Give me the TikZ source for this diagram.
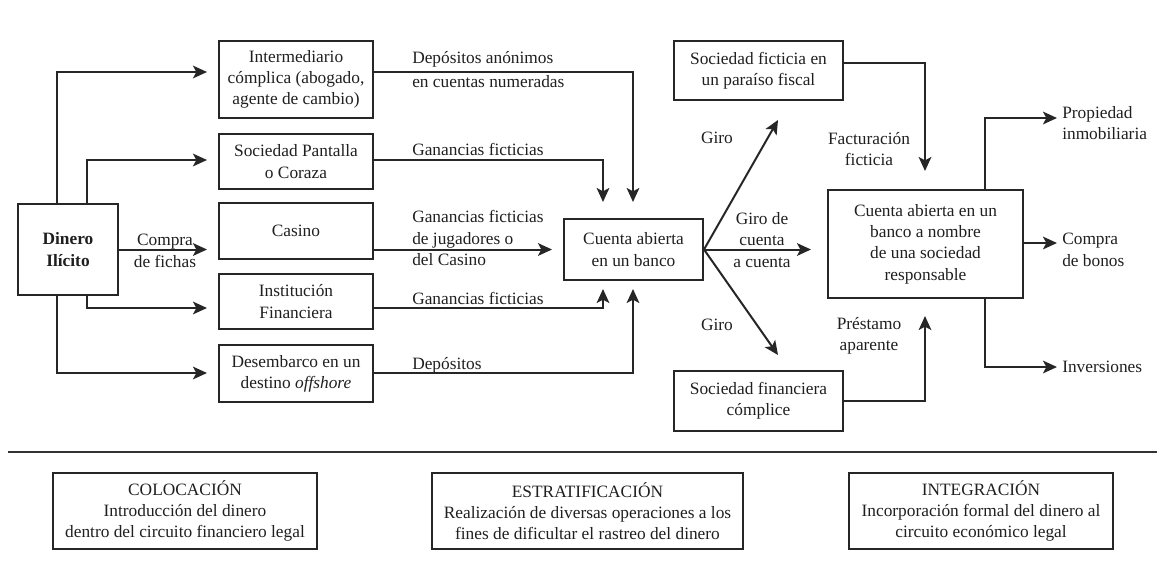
\documentclass[tikz,border=0pt]{standalone}
\usepackage{fontspec}
\setmainfont{Liberation Serif}
\usetikzlibrary{arrows.meta,calc}
\begin{document}
\begin{tikzpicture}[x=0.75pt,y=-0.75pt,
  every node/.style={font=\fontsize{13}{16}\selectfont, text=black!88},
  box/.style={draw=black!85, line width=1.5pt, align=center, inner sep=2pt},
  arr/.style={draw=black!85, line width=1.5pt, -{Stealth[length=10.5pt,width=9.5pt,inset=2.5pt]}},
  lbl/.style={inner sep=0pt, align=left},
]
\useasboundingbox (0,0) rectangle (1157,561);

% nodes
\node[box, minimum width=75pt, minimum height=68.25pt] (dinero) at (68,249.5) {\textbf{Dinero}\\\textbf{Ilícito}};
\node[box, minimum width=115.5pt, minimum height=57.75pt] (inter) at (296,79.5) {Intermediario\\cómplica (abogado,\\agente de cambio)};
\node[box, minimum width=115.5pt, minimum height=41.25pt] (pant) at (296,161.5) {Sociedad Pantalla\\o Coraza};
\node[box, minimum width=115.5pt, minimum height=42pt] (casino) at (296,231) {Casino};
\node[box, minimum width=115.5pt, minimum height=41.25pt] (inst) at (296,301.5) {Institución\\Financiera};
\node[box, minimum width=115.5pt, minimum height=42.75pt] (desem) at (296,373.5) {Desembarco en un\\destino \textit{offshore}};
\node[box, minimum width=104.25pt, minimum height=45.75pt] (cuenta) at (633.5,249.5) {Cuenta abierta\\en un banco};
\node[box, minimum width=126.75pt, minimum height=44.25pt] (ficticia) at (758.5,70.5) {Sociedad ficticia en\\un paraíso fiscal};
\node[box, minimum width=126.75pt, minimum height=45pt] (financiera) at (758.5,401) {Sociedad financiera\\cómplice};
\node[box, minimum width=146.25pt, minimum height=81pt] (cuenta2) at (925.5,244) {Cuenta abierta en un\\banco a nombre\\de una sociedad\\responsable};

\node[box, minimum width=198pt, minimum height=57pt] (coloc) at (185,511) {COLOCACIÓN\\Introducción del dinero\\dentro del circuito financiero legal};
\node[box, minimum width=233.25pt, minimum height=57pt] (estrat) at (587.5,511) {ESTRATIFICACIÓN\\Realización de diversas operaciones a los\\fines de dificultar el rastreo del dinero};
\node[box, minimum width=198pt, minimum height=57pt] (integ) at (981,511) {INTEGRACIÓN\\Incorporación formal del dinero al\\circuito económico legal};

% labels
\node[lbl, anchor=west] (l1) at (412,70) {Depósitos anónimos\\[2pt]en cuentas numeradas};
\node[lbl, anchor=west] (l2) at (412,149) {Ganancias ficticias};
\node[lbl, anchor=west] (l3) at (412,238) {Ganancias ficticias\\de jugadores o\\del Casino};
\node[lbl, anchor=west] (l4) at (412,298) {Ganancias ficticias};
\node[lbl, anchor=west] (l5) at (412,365) {Depósitos};
\node[lbl, align=center] (compra) at (165,251) {Compra\\de fichas};
\node[lbl] (giro1) at (717,138) {Giro};
\node[lbl, align=center] (giro2) at (762,240) {Giro de\\cuenta\\a cuenta};
\node[lbl] (giro3) at (717,325) {Giro};
\node[lbl, align=center] (fact) at (869,149) {Facturación\\ficticia};
\node[lbl, align=center] (prest) at (869,336) {Préstamo\\aparente};
\node[lbl, anchor=west] (prop) at (1062,123) {Propiedad\\inmobiliaria};
\node[lbl, anchor=west] (bonos) at (1062,250) {Compra\\de bonos};
\node[lbl, anchor=west] (inv) at (1062,367) {Inversiones};

% connectors from Dinero
\draw[arr, shorten >=8.25pt] (dinero.north -| 57,0) |- (inter.west |- 0,72);
\draw[arr, shorten >=8.25pt] (dinero.north -| 87,0) |- (pant.west |- 0,160);
\draw[arr, shorten >=8.25pt] (dinero.east) -- (casino.west |- dinero.east);
\draw[arr, shorten >=8.25pt] (dinero.south -| 87,0) |- (inst.west |- 0,308);
\draw[arr, shorten >=8.25pt] (dinero.south -| 57,0) |- (desem.west |- 0,373);

% into Cuenta abierta
\draw[arr, shorten >=12pt] (inter.east |- 0,72) -| (cuenta.north -| 633,0);
\draw[arr, shorten >=12pt] (pant.east |- 0,160) -| (cuenta.north -| 603,0);
\draw[arr, shorten >=8.25pt] (casino.east |- cuenta.west) -- (cuenta.west);
\draw[arr, shorten >=6pt] (inst.east |- 0,308) -| (cuenta.south -| 603,0);
\draw[arr, shorten >=6pt] (desem.east |- 0,373) -| (cuenta.south -| 633,0);

% stratification
\coordinate (g1) at (778,120);
\coordinate (g3) at (778,355);
\draw[arr] (cuenta.east) -- (g1);
\draw[arr, shorten >=12pt] (cuenta.east) -- (cuenta2.west |- cuenta.east);
\draw[arr] (cuenta.east) -- (g3);
\draw[arr, shorten >=13.5pt] (ficticia.east |- 0,63) -| (cuenta2.north -| 925,0);
\draw[arr, shorten >=12.75pt] (financiera.east |- 0,401) -| (cuenta2.south -| 925,0);

% integration
\draw[arr, shorten >=3.75pt] (cuenta2.north -| 985,0) |- (prop.west |- 0,118);
\draw[arr, shorten >=3.75pt] (cuenta2.east |- 0,243) -- (bonos.west |- 0,243);
\draw[arr, shorten >=3.75pt] (cuenta2.south -| 985,0) |- (inv.west |- 0,367);

% separator
\draw[line width=1.5pt, draw=black!80] (8,452) -- (1157,452);
\end{tikzpicture}
\end{document}
